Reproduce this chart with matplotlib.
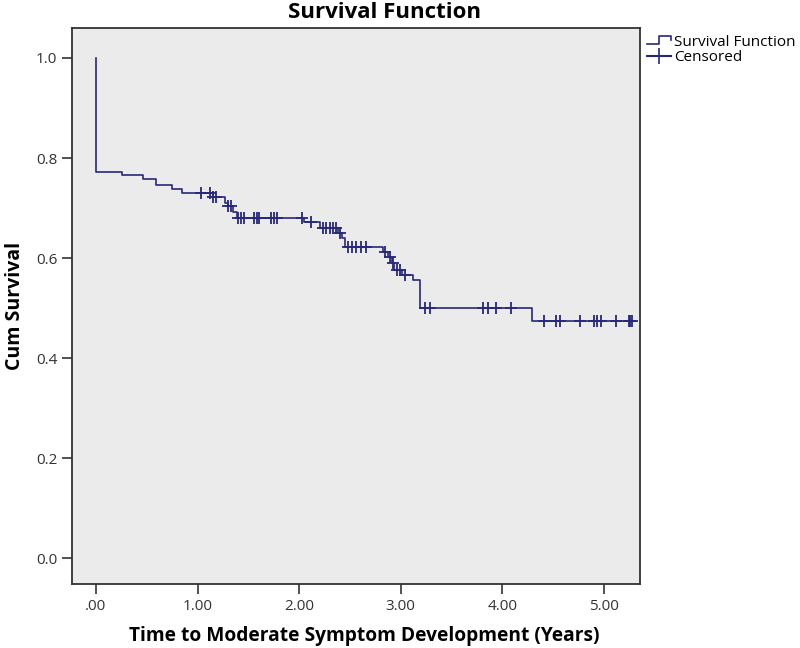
import matplotlib
matplotlib.use("Agg")
import matplotlib.pyplot as plt
import numpy as np
from matplotlib.legend_handler import HandlerBase
from matplotlib.lines import Line2D

# Kaplan-Meier steps: time of event, survival after the event
step_times = [0.0, 0.252, 0.46, 0.588, 0.745, 0.847, 1.149, 1.27, 1.30, 1.351,
              1.391, 2.046, 2.208, 2.379, 2.419, 2.449, 2.822, 2.873, 2.913,
              2.933, 3.009, 3.121, 3.189, 4.289]
step_surv = [0.772, 0.766, 0.759, 0.746, 0.738, 0.731, 0.722, 0.710, 0.704, 0.692,
             0.680, 0.673, 0.660, 0.650, 0.640, 0.623, 0.613, 0.603, 0.590, 0.576,
             0.566, 0.556, 0.500, 0.475]
end_time = 5.29
censor_times = [1.038, 1.119, 1.149, 1.179, 1.30, 1.331, 1.401, 1.431, 1.452,
                1.552, 1.583, 1.603, 1.724, 1.754, 1.784, 2.026, 2.117, 2.238,
                2.268, 2.308, 2.328, 2.359, 2.399, 2.48, 2.52, 2.56, 2.611, 2.661,
                2.843, 2.893, 2.923, 2.964, 2.994, 3.044, 3.236, 3.286, 3.81,
                3.861, 3.941, 4.082, 4.405, 4.526, 4.566, 4.768, 4.899, 4.929,
                4.969, 5.121, 5.242, 5.252, 5.272]
x_ticks = [0, 1, 2, 3, 4, 5]
x_labels = [".00", "1.00", "2.00", "3.00", "4.00", "5.00"]
y_ticks = [0.0, 0.2, 0.4, 0.6, 0.8, 1.0]
y_labels = ["0.0", "0.2", "0.4", "0.6", "0.8", "1.0"]

col = "#28287a"
plt.rcParams['font.family'] = ['Open Sans', 'DejaVu Sans']

fig = plt.figure(figsize=(8, 6.48), dpi=100)
ax = fig.add_axes([0.09, 0.098, 0.71, 0.859])
ax.set_facecolor("#ebebeb")

# build step curve
xs = [0.0]
ys = [1.0]
for t, s in zip(step_times, step_surv):
    xs += [t, t]
    ys += [ys[-1], s]
xs.append(end_time)
ys.append(ys[-1])
ax.plot(xs, ys, color=col, lw=1.2)

def surv_at(t):
    s = 1.0
    for tt, ss in zip(step_times, step_surv):
        if tt <= t:
            s = ss
    return s

cy = [surv_at(t) for t in censor_times]
ax.plot(censor_times, cy, linestyle='none', marker='+', color=col,
        markersize=9, markeredgewidth=1.3)

ax.set_xlim(-0.236, 5.354)
ax.set_ylim(-0.052, 1.06)
ax.set_xticks(x_ticks)
ax.set_xticklabels(x_labels)
ax.set_yticks(y_ticks)
ax.set_yticklabels(y_labels)
ax.tick_params(direction='out', length=7, width=1.2, labelsize=11, colors='#333333')
for sp in ax.spines.values():
    sp.set_linewidth(1.3)
    sp.set_color('#333333')

fig.text(385 / 800, 1 - 13 / 648, "Survival Function", fontsize=16,
         fontweight='bold', ha='center', va='center')
fig.text(364 / 800, 1 - 636 / 648, "Time to Moderate Symptom Development (Years)",
         fontsize=13.8, fontweight='bold', ha='center', va='center')
ax.set_ylabel("Cum Survival", fontsize=14, fontweight='bold', labelpad=8)


class HandlerStep(HandlerBase):
    def create_artists(self, legend, orig_handle, xdescent, ydescent, width,
                       height, fontsize, trans):
        x0, x1 = -xdescent, -xdescent + width
        y0 = -ydescent + height * 0.15
        y1 = -ydescent + height * 0.9
        xm = x0 + width * 0.5
        l = Line2D([x0, xm, xm, x1, x1], [y0, y0, y1, y1, y1 - height * 0.35],
                   color=col, lw=1.2, transform=trans)
        return [l]


h1 = Line2D([], [], color=col)
h2 = Line2D([], [], color=col, marker='+', markersize=11, markeredgewidth=1.2)
leg = fig.legend([h1, h2], ["Survival Function", "Censored"],
                 handler_map={h1: HandlerStep()},
                 loc='upper left', bbox_to_anchor=(0.801, 0.956),
                 frameon=False, fontsize=11, handlelength=1.6,
                 handletextpad=0.2, labelspacing=0.05, borderaxespad=0)

fig.savefig("out.png", dpi=100)
